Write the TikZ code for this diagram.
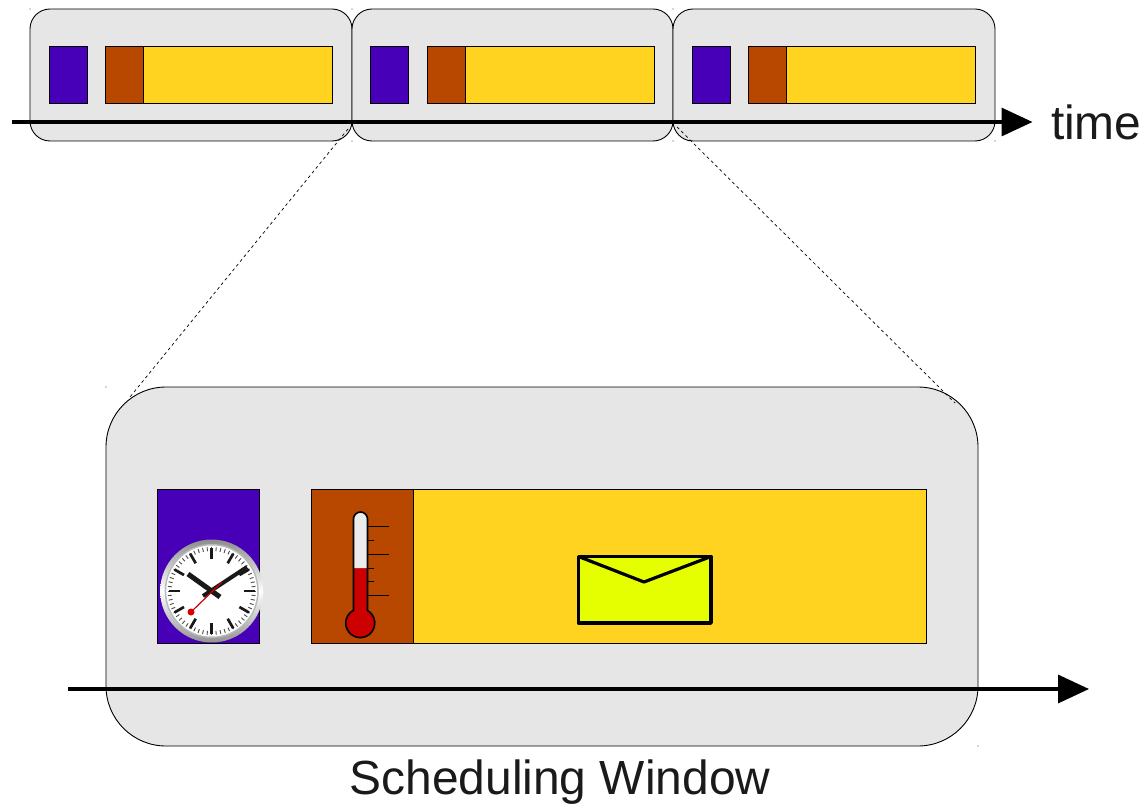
\documentclass[tikz,border=0pt]{standalone}
\usepackage{fontspec}
\setmainfont{Liberation Sans}
\usetikzlibrary{arrows.meta,positioning}
\definecolor{windowgray}{HTML}{E6E6E6}
\definecolor{clockblue}{HTML}{4700B8}
\definecolor{tempbrown}{HTML}{B84700}
\definecolor{msgyellow}{HTML}{FFD320}
\definecolor{envelopelime}{HTML}{E6FF00}
\definecolor{mercuryred}{HTML}{CC0000}
\definecolor{labelblack}{HTML}{1A1A1A}
\tikzset{
  window/.style = {draw, fill=windowgray, line width=0.9pt, inner sep=0pt, outer sep=0pt},
  slot/.style = {draw, line width=0.9pt, inner sep=0pt, outer sep=0pt},
  axisline/.style = {line width=3.4pt, -{Triangle[length=31pt, width=28pt]}},
  zoomline/.style = {line width=0.7pt, dash pattern=on 3pt off 3pt},
  biglabel/.style = {text=labelblack, font=\fontsize{47.9pt}{50pt}\selectfont, inner sep=0pt, outer sep=0pt},
}
\begin{document}
\begin{tikzpicture}[x=1pt, y=-1pt]%
    \useasboundingbox (0,0) rectangle (1145,805);
    % top row
    \node [window, rounded corners=20pt, minimum width=322pt, minimum height=132pt] (window1) at (191,75) {};
    \node [window, rounded corners=20pt, minimum width=321pt, minimum height=132pt, right=0pt of window1] (window2) {};
    \node [window, rounded corners=20pt, minimum width=322pt, minimum height=132pt, right=0pt of window2] (window3) {};
    \node [slot, fill=clockblue, minimum width=38pt, minimum height=57pt] (clock1) at (68,74.5) {};
    \node [slot, fill=tempbrown, minimum width=38pt, minimum height=57pt, right=18.8pt of clock1] (temp1) {};
    \node [slot, fill=msgyellow, minimum width=188.7pt, minimum height=57pt, right=0pt of temp1] (msg1) {};
    \node [slot, fill=clockblue, minimum width=38pt, minimum height=57pt] (clock2) at (389.5,74.5) {};
    \node [slot, fill=tempbrown, minimum width=38pt, minimum height=57pt, right=19pt of clock2] (temp2) {};
    \node [slot, fill=msgyellow, minimum width=189pt, minimum height=57pt, right=0pt of temp2] (msg2) {};
    \node [slot, fill=clockblue, minimum width=38pt, minimum height=57pt] (clock3) at (711,74.5) {};
    \node [slot, fill=tempbrown, minimum width=38pt, minimum height=57pt, right=18.8pt of clock3] (temp3) {};
    \node [slot, fill=msgyellow, minimum width=188.7pt, minimum height=57pt, right=0pt of temp3] (msg3) {};
    \coordinate (timestart) at (12,122);
    \node [biglabel, anchor=west] (timelabel) at (1051,122) {time};
    \draw [axisline, shorten >=18.5pt] (timestart) -- (timelabel.west);
    % enlarged window
    \node [window, rounded corners=60pt, minimum width=872pt, minimum height=359pt] (bigwindow) at (542,566.5) {};
    \node [slot, fill=clockblue, minimum width=102.5pt, minimum height=154pt] (bigclock) at (208.5,566) {};
    \node [slot, fill=tempbrown, minimum width=102.5pt, minimum height=154pt, right=51.4pt of bigclock] (bigtemp) {};
    \node [slot, fill=msgyellow, minimum width=513pt, minimum height=154pt, right=0pt of bigtemp] (bigmsg) {};
    \coordinate (bigstart) at (68,689);
    \coordinate (bigend) at (1089,689);
    \draw [axisline] (bigstart) -- (bigend);
    \node [biglabel, below=14pt of bigwindow, xshift=18pt] (schedlabel) {Scheduling Window};
    % zoom lines
    \draw [zoomline] ([shift={(-4pt,12pt)}]window1.south east) -- ([shift={(24pt,-10pt)}]bigwindow.north west);
    \draw [zoomline] ([shift={(4pt,14pt)}]window2.south east) -- ([shift={(-23pt,-16pt)}]bigwindow.north east);
    % corner specks
    \foreach \c in {window1.north west, window1.north east, window1.south east, window2.north east, window2.south east, window3.south east, bigwindow.north west, bigwindow.south east}
      \fill [black!70] (\c) circle (0.6);
    % clock
    \shade [top color=gray!90, bottom color=gray!85, middle color=white] (211.7,591) circle (51.5);
    \fill [gray!55] (211.7,591) circle (47);
    \fill [white] (211.7,591) circle (45.5);
    \foreach \a in {0,6,...,354}
      \draw [line width=0.9pt, black!70] (211.7,591) ++(\a:40) -- ++(\a:4);
    \foreach \a in {0,30,...,330}
      \draw [line width=2.7pt, black!90] (211.7,591) ++(\a:32) -- ++(\a:11);
    \draw [line width=5pt, black!90] (220,597) -- (188,574);
    \draw [line width=4pt, black!90] (203,596) -- (247,567);
    \draw [line width=1.2pt, red!80!black] (191,612) -- (222,582);
    \fill [red!85!black] (191,612) circle (3.5);
    % thermometer
    \foreach \y/\e in {526/389,540/374,554/389,568/374,581.5/374,595/389}
      \draw [line width=0.9pt] (367,\y) -- (\e,\y);
    \fill [mercuryred] (353.5,610.5) -- (353.5,519) arc[start angle=180, end angle=360, radius=7] -- (367.5,610.5) arc[start angle=-60, end angle=240, radius=14.5] -- cycle;
    \fill [gray!15] (353.5,568) -- (353.5,519) arc[start angle=180, end angle=360, radius=7] -- (367.5,568) -- cycle;
    \draw [line width=1.6pt] (353.5,610.5) -- (353.5,519) arc[start angle=180, end angle=360, radius=7] -- (367.5,610.5) arc[start angle=-60, end angle=240, radius=14.5] -- cycle;
    % envelope
    \draw [line width=3.4pt, fill=envelopelime, line join=round] (578.5,556.5) rectangle (711,623);
    \draw [line width=3.2pt, line join=round] (578.5,556.5) -- (644,582) -- (711,556.5);
  \end{tikzpicture}
\end{document}
